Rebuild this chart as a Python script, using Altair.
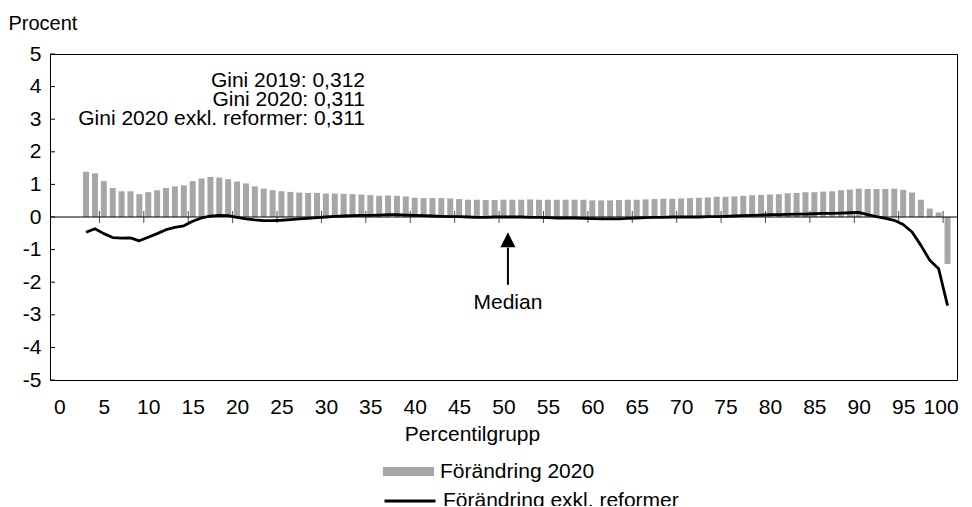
import altair as alt
import pandas as pd

percentiles = list(range(3, 101))
forandring_2020 = [
    1.39, 1.34, 1.10, 0.89, 0.79, 0.79, 0.70, 0.76, 0.82, 0.89,   # 3-12
    0.94, 0.97, 1.10, 1.18, 1.23, 1.21, 1.16, 1.09, 1.03, 0.94,   # 13-22
    0.87, 0.82, 0.79, 0.77, 0.75, 0.74, 0.74, 0.72, 0.72, 0.71,   # 23-32
    0.70, 0.69, 0.67, 0.65, 0.66, 0.65, 0.63, 0.59, 0.58, 0.58,   # 33-42
    0.58, 0.57, 0.55, 0.53, 0.53, 0.52, 0.52, 0.53, 0.53, 0.53,   # 43-52
    0.54, 0.53, 0.53, 0.53, 0.53, 0.53, 0.53, 0.51, 0.51, 0.51,   # 53-62
    0.52, 0.53, 0.53, 0.54, 0.55, 0.56, 0.56, 0.57, 0.58, 0.59,   # 63-72
    0.60, 0.62, 0.62, 0.63, 0.65, 0.67, 0.68, 0.69, 0.70, 0.73,   # 73-82
    0.74, 0.76, 0.76, 0.78, 0.79, 0.82, 0.84, 0.87, 0.86, 0.86,   # 83-92
    0.86, 0.87, 0.83, 0.75, 0.53, 0.26, 0.14, -1.44,              # 93-100
]
exkl_reformer = [
    -0.47, -0.36, -0.51, -0.63, -0.65, -0.64, -0.73, -0.62, -0.51, -0.39,  # 3-12
    -0.32, -0.27, -0.13, -0.03, 0.03, 0.05, 0.04, -0.01, -0.06, -0.09,     # 13-22
    -0.11, -0.11, -0.10, -0.08, -0.06, -0.04, -0.02, 0.00, 0.02, 0.03,     # 23-32
    0.04, 0.05, 0.05, 0.06, 0.07, 0.07, 0.06, 0.05, 0.04, 0.03,            # 33-42
    0.02, 0.01, 0.01, 0.00, -0.01, -0.01, 0.00, 0.00, 0.00, 0.00,          # 43-52
    -0.01, -0.01, -0.02, -0.03, -0.03, -0.03, -0.04, -0.05, -0.06, -0.06,  # 53-62
    -0.06, -0.04, -0.03, -0.02, -0.01, -0.01, 0.00, 0.00, 0.00, 0.00,      # 63-72
    0.01, 0.01, 0.02, 0.03, 0.04, 0.05, 0.06, 0.07, 0.07, 0.08,            # 73-82
    0.09, 0.09, 0.10, 0.11, 0.11, 0.12, 0.13, 0.14, 0.07, 0.01,            # 83-92
    -0.04, -0.10, -0.23, -0.46, -0.87, -1.33, -1.59, -2.72,                # 93-100
]
series_names = ["Förändring 2020", "Förändring exkl. reformer"]
x_tick_labels = list(range(0, 101, 5))
y_tick_values = list(range(-5, 6))
gini_lines = ["Gini 2019: 0,312", "Gini 2020: 0,311", "Gini 2020 exkl. reformer: 0,311"]
median_label = "Median"
median_position = 50.5

FONT = "Liberation Sans"
FS = 21

df = pd.DataFrame({
    "pct": percentiles,
    "bar": forandring_2020,
    "line": exkl_reformer,
    "s1": series_names[0],
    "s2": series_names[1],
})

xscale = alt.Scale(domain=[-0.5, 100.5], nice=False, zero=False)
yscale = alt.Scale(domain=[-5, 5], nice=False)

xaxis = alt.Axis(values=x_tick_labels, title="Percentilgrupp", titleX=422, titleY=60,
                 labelOffset={"condition": {"test": "datum.value == 100", "value": -7},
                              "value": 0})
yaxis = alt.Axis(values=y_tick_values, title="Procent", titleX=-42, titleY=-25,
                 titleAngle=0, titleAlign="left", titleFontSize=20)

base = alt.Chart(df)

bars = base.mark_bar(width=6).encode(
    x=alt.X("pct:Q", scale=xscale, axis=xaxis),
    y=alt.Y("bar:Q", scale=yscale, axis=yaxis),
    fill=alt.Fill("s1:N", scale=alt.Scale(domain=[series_names[0]], range=["#a6a6a6"]),
                  legend=alt.Legend(title=None, orient="none", legendX=333, legendY=392,
                                    symbolType="M-1,-0.18L1,-0.18L1,0.18L-1,0.18Z",
                                    symbolSize=2601, symbolStrokeWidth=0, padding=0,
                                    labelFont=FONT, labelFontSize=FS, labelColor="black",
                                    labelOffset=6, labelLimit=600)),
)

zero = alt.Chart(pd.DataFrame({"y": [0]})).mark_rule(color="black", strokeWidth=1).encode(
    y=alt.Y("y:Q", scale=yscale, axis=yaxis))

xticks = alt.Chart(pd.DataFrame({"t": [v - 0.5 for v in x_tick_labels[1:]], "y": 0})).mark_tick(
    orient="vertical", size=12, thickness=1, color="black").encode(
    x=alt.X("t:Q", scale=xscale, axis=xaxis), y=alt.Y("y:Q", scale=yscale, axis=yaxis))

yticks = alt.Chart(pd.DataFrame({"y": y_tick_values})).mark_rule(color="black", strokeWidth=1).encode(
    y=alt.Y("y:Q", scale=yscale, axis=yaxis), x=alt.value(0), x2=alt.value(5))

line = base.mark_line(strokeWidth=2.8, strokeJoin="round").encode(
    x=alt.X("pct:Q", scale=xscale, axis=xaxis),
    y=alt.Y("line:Q", scale=yscale, axis=yaxis),
    stroke=alt.Stroke("s2:N", scale=alt.Scale(domain=[series_names[1]], range=["black"]),
                      legend=alt.Legend(title=None, orient="none", legendX=333, legendY=420,
                                        symbolType="stroke", symbolSize=2601,
                                        symbolStrokeWidth=2.8, padding=0,
                                        labelFont=FONT, labelFontSize=FS, labelColor="black",
                                        labelOffset=6, labelLimit=600)),
)

gini = alt.Chart(pd.DataFrame({"a": [0]})).mark_text(
    align="right", baseline="alphabetic", font=FONT, fontSize=FS, lineHeight=19, color="black"
).encode(x=alt.value(315), y=alt.value(32.7), text=alt.value(gini_lines))

arrow_df = pd.DataFrame({"x": [median_position], "y1": [-0.94], "y2": [-2.08],
                         "head": [-0.70], "ty": [-2.82], "label": [median_label]})
shaft = alt.Chart(arrow_df).mark_rule(color="black", strokeWidth=2).encode(
    x=alt.X("x:Q", scale=xscale, axis=xaxis), y=alt.Y("y1:Q", scale=yscale, axis=yaxis), y2="y2:Q")
head = alt.Chart(arrow_df).mark_point(shape="M0,-1L1,1L-1,1Z", size=225, filled=True,
                                      color="black", opacity=1).encode(
    x=alt.X("x:Q", scale=xscale, axis=xaxis), y=alt.Y("head:Q", scale=yscale, axis=yaxis))
mtext = alt.Chart(arrow_df).mark_text(font=FONT, fontSize=FS, baseline="alphabetic",
                                      align="center", color="black").encode(
    x=alt.X("x:Q", scale=xscale, axis=xaxis), y=alt.Y("ty:Q", scale=yscale, axis=yaxis),
    text="label:N")

chart = alt.layer(bars, zero, xticks, yticks, line, gini, shaft, head, mtext).resolve_scale(
    fill="independent", stroke="independent"
).properties(
    width=907, height=326,
    background="white",
    autosize=alt.AutoSizeParams(type="none"),
    padding={"left": 42, "top": 46, "right": 7, "bottom": 126},
).configure_view(
    stroke="black", strokeWidth=1
).configure_axis(
    grid=False, domain=False, ticks=False, tickSize=0,
    labelFont=FONT, labelFontSize=FS, labelColor="black",
    titleFont=FONT, titleFontSize=FS, titleFontWeight="normal", titleColor="black",
    titleBaseline="alphabetic", labelFlush=False, labelOverlap=False,
).configure_axisX(
    labelPadding=16, titleAlign="center",
).configure_axisY(
    labelPadding=9, labelBaseline="middle", labelAlign="right",
    labelExpr="datum.value < 0 ? '-' + abs(datum.value) : datum.value + '\u2002'",
)

chart.save("out.html", embed_options={"renderer": "svg", "actions": False})
